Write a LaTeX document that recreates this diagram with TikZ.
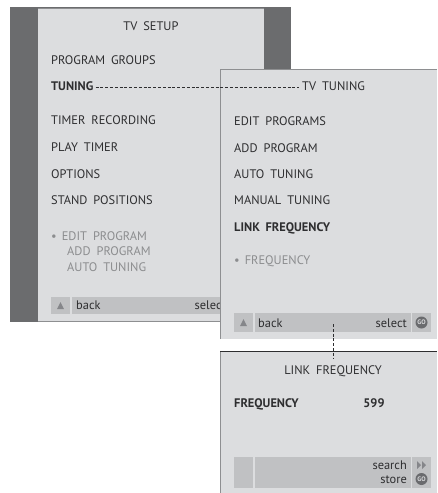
\documentclass[tikz,border=0pt]{standalone}
\usepackage{fontspec}
\setmainfont{PT Sans}[WordSpace=1.8]
\begin{document}
\begin{tikzpicture}[x=1pt,y=-1pt,
  lbl/.style={anchor=base west,inner sep=0pt,font=\fontsize{12.4}{13}\selectfont,text=txt},
  bold/.style={lbl,font=\fontsize{12.4}{13}\selectfont\bfseries},
  sub/.style={lbl,text=subtxt},
  ttl/.style={anchor=base,inner sep=0pt,font=\fontsize{12.4}{13}\selectfont,text=txt},
  tri/.style={fill=icon,draw=none},
  dots/.style={draw=txt,line width=0.8pt,dash pattern=on 3pt off 1.8pt},
  goicon/.style={circle,fill=gocol,inner sep=0pt,minimum size=12pt,text=panel,font=\fontsize{6.5}{7}\selectfont\bfseries}]
\definecolor{dark}{HTML}{6B6C6E}
\definecolor{panel}{HTML}{DCDDDF}
\definecolor{barc}{HTML}{C0C1C3}
\definecolor{txt}{HTML}{2E2E30}
\definecolor{subtxt}{HTML}{8C8D8F}
\definecolor{edge}{HTML}{8E8F91}
\definecolor{icon}{HTML}{85868A}
\definecolor{gocol}{HTML}{6A6B6E}
\useasboundingbox (0,0) rectangle (437,493);
\fill[white] (0,0) rectangle (437,493);
% ---------- panel 1 ----------
\fill[dark] (10,7) rectangle (291,322);
\fill[panel] (38,8) rectangle (264,321);
\draw[edge,line width=0.6pt] (38,8) -- (264,8);
\draw[edge,line width=0.8pt] (38,321) -- (264,321);
\node[ttl] (p1t) at (151,30) {TV SETUP};
\node[lbl] (p1a) at (51,64.5) {PROGRAM GROUPS};
\node[bold] (tun) at (51,90.5) {TUNING};
\node[lbl] (p1b) at (51,124.5) {TIMER RECORDING};
\node[lbl] (p1c) at (51,151.5) {PLAY TIMER};
\node[lbl] (p1d) at (51,178.5) {OPTIONS};
\node[lbl] (p1e) at (51,204.5) {STAND POSITIONS};
\node[sub] (p1f) at (51,240.5) {•\kern5pt EDIT PROGRAM};
\node[sub] (p1g) at (67,255.5) {ADD PROGRAM};
\node[sub] (p1h) at (67,271.5) {AUTO TUNING};
\fill[barc] (51,297) rectangle (70,314);
\fill[barc] (71.5,297) rectangle (240,314);
\fill[tri] (57,309) -- (64,309) -- (60.5,302) -- cycle;
\node[lbl] (p1back) at (76,309.5) {back};
\node[lbl,anchor=base east] (p1sel) at (226,309.5) {select};
% ---------- panel 2 ----------
\fill[panel] (220,69) rectangle (437,339);
\draw[edge,line width=0.8pt] (220,339) -- (220,69) -- (437,69);
\node[lbl] (p2t) at (302,90.5) {TV TUNING};
\node[lbl] (p2a) at (234,125.5) {EDIT PROGRAMS};
\node[lbl] (p2b) at (234,152.5) {ADD PROGRAM};
\node[lbl] (p2c) at (234,178.5) {AUTO TUNING};
\node[lbl] (p2d) at (234,204.5) {MANUAL TUNING};
\node[bold] (p2e) at (234,231.5) {LINK FREQUENCY};
\node[sub] (p2f) at (234,264.5) {•\kern5pt FREQUENCY};
\fill[barc] (234,313) rectangle (253,332);
\fill[barc] (254.5,313) rectangle (410.5,332);
\fill[barc] (412,313) rectangle (431,332);
\fill[tri] (240,326) -- (247,326) -- (243.5,319) -- cycle;
\node[lbl] (p2back) at (258,327.5) {back};
\node[lbl,anchor=base east] (p2sel) at (407,327.5) {select};
\node[goicon] (go1) at (421.5,322.5) {GO};
\coordinate (p2link) at (333,324);
% ---------- panel 3 ----------
\fill[panel] (220,351) rectangle (437,493);
\draw[edge,line width=0.8pt] (220,493) -- (220,351);
\draw[txt,line width=0.9pt] (220,351) -- (437,351);
\node[ttl] (p3t) at (333,374.5) {LINK FREQUENCY};
\coordinate (p3link) at (333,358);
\node[bold] (p3a) at (234,407.5) {FREQUENCY};
\node[bold,anchor=base] (p3v) at (374,407.5) {599};
\fill[barc] (234,457) rectangle (253,488);
\fill[barc] (254.5,457) rectangle (410.5,488);
\fill[barc] (412,457) rectangle (431,488);
\node[lbl,anchor=base east] (p3s) at (407,469.5) {search};
\node[lbl,anchor=base east] (p3st) at (407,483.5) {store};
\fill[tri] (417,461) -- (417,469) -- (421,465) -- cycle;
\fill[tri] (422,461) -- (422,469) -- (426,465) -- cycle;
\node[goicon] (go2) at (421.5,479) {GO};
% ---------- connectors ----------
\draw[dots] ([xshift=2pt,yshift=3.5pt]tun.base east) -- ([xshift=-3pt,yshift=3.5pt]p2t.base west);
\draw[dots] (p2link) -- (p3link);
\end{tikzpicture}
\end{document}
